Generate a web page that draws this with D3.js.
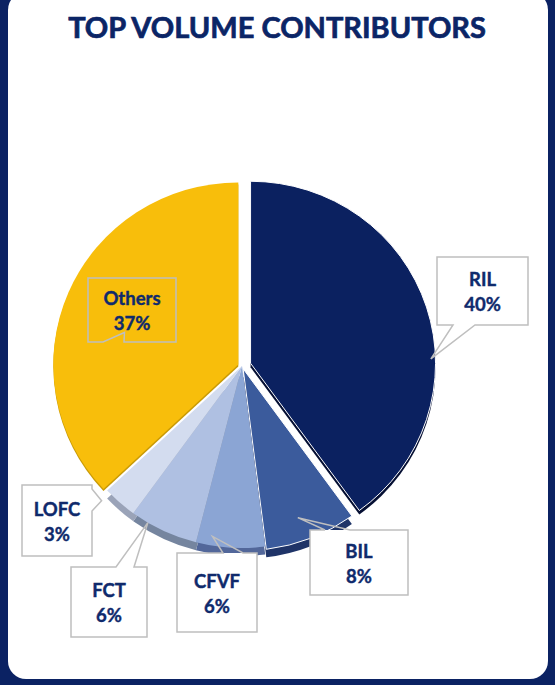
<!DOCTYPE html>
<html>
<head>
<meta charset="utf-8">
<script src="https://cdn.jsdelivr.net/npm/d3@7"></script>
<style>
  html, body { margin: 0; padding: 0; background: #0b2263; }
  svg { display: block; }
  text { font-family: Lato, "Open Sans", sans-serif; font-weight: 700; fill: #0f2a6c; }
</style>
</head>
<body>
<div id="chart"></div>
<script>
// data
const categories = ["RIL", "BIL", "CFVF", "FCT", "LOFC", "Others"];
const shares = [40, 8, 6, 6, 3, 37];
const titleText = "TOP VOLUME CONTRIBUTORS";

// look
const topColors  = ["#0b2160", "#3b5b9c", "#8ba5d4", "#afc0e2", "#d3dcef", "#f8be0b"];
const sideColors = ["#050f33", "#1f3468", "#52679a", "#75859f", "#9aa3b8", "#c99a05"];
const explode    = [9, 3, 0, 0, 0, 4];
const depths     = [4, 8, 8, 8, 8, 2];

const width = 555, height = 685;
const cx = 242, cy = 366, rx = 185, ry = 182;

// callout boxes, pointer base on one side and tip inside the slice (t along angle, rf of radius)
const callouts = {
    RIL:    {x: 437, y: 257, w: 91, h: 68, side: "bottom", p1: 453, p2: 475, t: 0.615, rf: 0.975, fill: "#fff"},
    BIL:    {x: 310, y: 530, w: 98, h: 65, side: "top",    p1: 325, p2: 350, t: 0.56,  rf: 0.87,  fill: "#fff"},
    CFVF:   {x: 177, y: 553, w: 80, h: 79, side: "top",    p1: 223, p2: 243, t: 0.78,  rf: 0.95,  fill: "#fff"},
    FCT:    {x: 71,  y: 567, w: 76, h: 70, side: "top",    p1: 116, p2: 134, t: 0.75,  rf: 1.0,   fill: "#fff"},
    LOFC:   {x: 22,  y: 485, w: 70, h: 71, side: "right",  p1: 489, p2: 511, t: 0.9,   rf: 1.06,  fill: "#fff"},
    Others: {x: 88,  y: 278, w: 88, h: 64, side: "bottom", p1: 103, p2: 124, t: 0.444, rf: 0.64,  fill: "none"}
};

const svg = d3.select("#chart").append("svg")
    .attr("width", width)
    .attr("height", height);

// frame
svg.append("rect").attr("width", width).attr("height", height).attr("fill", "#0b2263");
svg.append("rect")
    .attr("x", 8).attr("y", -8)
    .attr("width", 540).attr("height", 687)
    .attr("rx", 18).attr("ry", 18)
    .attr("fill", "#fff");

svg.append("text")
    .attr("x", 277).attr("y", 38)
    .attr("text-anchor", "middle")
    .style("font-size", "29px")
    .style("fill", "#0b2566")
    .style("stroke", "#0b2566")
    .style("stroke-width", 0.7)
    .text(titleText);

const pie = d3.pie().sort(null).value(d => d);
const arcs = pie(shares);
const arc = d3.arc().innerRadius(0).outerRadius(rx);
const sy = ry / rx;

function offset(d, i) {
    const m = (d.startAngle + d.endAngle) / 2;
    return [Math.sin(m) * explode[i], -Math.cos(m) * explode[i] * sy];
}

const sides = svg.append("g");
const tops = svg.append("g");

arcs.forEach(function(d, i) {
    const o = offset(d, i);
    sides.append("path")
        .attr("transform", `translate(${cx + o[0]},${cy + o[1] + depths[i]}) scale(1,${sy})`)
        .attr("d", arc(d))
        .attr("fill", sideColors[i]);
});

arcs.forEach(function(d, i) {
    const o = offset(d, i);
    tops.append("path")
        .attr("transform", `translate(${cx + o[0]},${cy + o[1]}) scale(1,${sy})`)
        .attr("d", arc(d))
        .attr("fill", topColors[i])
        .attr("stroke", i < 2 ? "#fff" : "none")
        .attr("stroke-width", 1);
});

// callouts
const labels = svg.append("g");

arcs.forEach(function(d, i) {
    const c = callouts[categories[i]];
    const o = offset(d, i);
    const a = d.startAngle + c.t * (d.endAngle - d.startAngle);
    const tip = [cx + o[0] + Math.sin(a) * rx * c.rf, cy + o[1] - Math.cos(a) * ry * c.rf];

    let p = `M${c.x},${c.y}`;
    if (c.side == "top") p += `L${c.p1},${c.y}L${tip[0]},${tip[1]}L${c.p2},${c.y}`;
    p += `L${c.x + c.w},${c.y}`;
    if (c.side == "right") p += `L${c.x + c.w},${c.p1}L${tip[0]},${tip[1]}L${c.x + c.w},${c.p2}`;
    p += `L${c.x + c.w},${c.y + c.h}`;
    if (c.side == "bottom") p += `L${c.p2},${c.y + c.h}L${tip[0]},${tip[1]}L${c.p1},${c.y + c.h}`;
    p += `L${c.x},${c.y + c.h}Z`;

    labels.append("rect")
        .attr("x", c.x).attr("y", c.y)
        .attr("width", c.w).attr("height", c.h)
        .attr("fill", c.fill);

    labels.append("path")
        .attr("d", p)
        .attr("fill", "none")
        .attr("stroke", "#bfbfbf")
        .attr("stroke-width", 1.5);

    const tx = c.x + c.w / 2, ty = c.y + c.h / 2;
    [categories[i], shares[i] + "%"].forEach(function(line, k) {
        labels.append("text")
            .attr("x", tx).attr("y", k == 0 ? ty - 5 : ty + 20)
            .attr("text-anchor", "middle")
            .style("font-size", "18.5px")
            .style("stroke", "#0f2a6c")
            .style("stroke-width", 0.4)
            .text(line);
    });
});
</script>
</body>
</html>
